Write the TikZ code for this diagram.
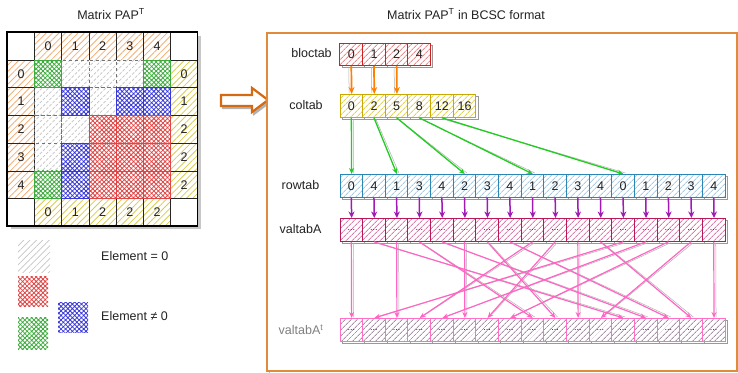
\documentclass[tikz,border=0pt]{standalone}
\usepackage{fontspec}
\setmainfont{Liberation Sans}
\usetikzlibrary{patterns.meta,arrows.meta,calc}
\definecolor{txt}{HTML}{222222}
\definecolor{hOr}{HTML}{F2B078}
\definecolor{hYe}{HTML}{DCCB50}
\definecolor{hGr}{HTML}{C4C4C4}
\definecolor{cGreen}{HTML}{3DAA3D}
\definecolor{cBlue}{HTML}{3838D8}
\definecolor{cRed}{HTML}{E04545}
\definecolor{bRed}{HTML}{CC2222}
\definecolor{bRedH}{HTML}{F08A8A}
\definecolor{bYel}{HTML}{C9A800}
\definecolor{bYelH}{HTML}{E2D25A}
\definecolor{bBlu}{HTML}{2A86B5}
\definecolor{bBluH}{HTML}{A9CBE6}
\definecolor{bMag}{HTML}{B8185A}
\definecolor{bMagH}{HTML}{E07AA8}
\definecolor{bPnk}{HTML}{FF6EC7}
\definecolor{bPnkH}{HTML}{A890A8}
\definecolor{aOra}{HTML}{FF8000}
\definecolor{aGrn}{HTML}{22CC22}
\definecolor{aPur}{HTML}{A01AB4}
\definecolor{aPnk}{HTML}{FF66C4}
\definecolor{frameC}{HTML}{E08A3C}
\definecolor{barrow}{HTML}{D66A12}
\tikzset{
  lbl/.style={font=\fontsize{12.5}{14}\selectfont, text=txt, inner sep=0pt},
  mcell/.style={minimum width=27.2pt, minimum height=27.7pt, inner sep=0pt, anchor=north west,
    draw=black!85, line width=0.8pt, font=\fontsize{12.5}{14}\selectfont, text=txt,
    preaction={fill=white}},
  mO/.style={mcell, pattern={Lines[angle=45,distance=4.5pt,line width=0.8pt]}, pattern color=hOr},
  mY/.style={mcell, pattern={Lines[angle=45,distance=4.5pt,line width=0.8pt]}, pattern color=hYe},
  mW/.style={mcell},
  mZ/.style={mcell, draw=black!55, dashed, pattern={Lines[angle=45,distance=4.5pt,line width=0.7pt]}, pattern color=hGr},
  mG/.style={mcell, draw=cGreen, pattern={Hatch[angle=45,distance=3.2pt,line width=0.8pt]}, pattern color=cGreen},
  mB/.style={mcell, draw=cBlue, pattern={Hatch[angle=45,distance=3.2pt,line width=0.8pt]}, pattern color=cBlue},
  mR/.style={mcell, draw=cRed, pattern={Hatch[angle=45,distance=3.2pt,line width=0.8pt]}, pattern color=cRed},
  dcell/.style={minimum width=22.65pt, minimum height=22.8pt, inner sep=0pt, anchor=north west,
    line width=1pt, font=\fontsize{12.5}{14}\selectfont, text=txt, preaction={fill=white}},
  dB/.style={dcell, draw=bRed, pattern={Lines[angle=45,distance=4pt,line width=0.9pt]}, pattern color=bRedH},
  dC/.style={dcell, draw=bYel, pattern={Lines[angle=45,distance=4pt,line width=0.9pt]}, pattern color=bYelH},
  dR/.style={dcell, draw=bBlu, pattern={Lines[angle=45,distance=4pt,line width=0.9pt]}, pattern color=bBluH},
  dV/.style={dcell, draw=bMag, pattern={Lines[angle=45,distance=4pt,line width=0.9pt]}, pattern color=bMagH, font=\fontsize{9}{10}\selectfont},
  dT/.style={dcell, draw=bPnk, pattern={Lines[angle=45,distance=4pt,line width=0.9pt]}, pattern color=bPnkH, font=\fontsize{9}{10}\selectfont},
  shdw/.style={draw=black!40, line width=0.6pt},
  oarr/.style={draw=aOra, line width=1.7pt, -{Stealth[length=7pt,width=6pt]}},
  garr/.style={draw=aGrn, line width=1.3pt, -{Stealth[length=6pt,width=5pt]}},
  parr/.style={draw=aPur, line width=1.5pt, -{Stealth[length=6.5pt,width=6pt]}},
  karr/.style={draw=aPnk, line width=1.2pt, -{Stealth[length=6pt,width=5pt]}},
  ashd/.style={draw=black!30, line width=0.5pt},
}
\begin{document}
\begin{tikzpicture}[x=1pt,y=-1pt]
\useasboundingbox (0,0) rectangle (738,372);

% ---------- titles ----------
\node[lbl] (title1) at (111,14) {Matrix PAP\textsuperscript{T}};
\node[lbl] (title2) at (466,14) {Matrix PAP\textsuperscript{T} in BCSC format};

% ---------- matrix ----------
\fill[black!22] (10.5,35.5) rectangle (200.9,229.4);
\foreach \c in {0,6} \foreach \r in {0,6}
  \node[mW] (m-\r-\c) at (7+\c*27.2, 32+\r*27.7) {};
\foreach \v [count=\c from 1] in {0,1,2,3,4}
  \node[mO] (m-0-\c) at (7+\c*27.2, 32) {\v};
\foreach \v [count=\r from 1] in {0,1,2,3,4}
  \node[mO] (m-\r-0) at (7, 32+\r*27.7) {\v};
\foreach \v [count=\r from 1] in {0,1,2,2,2}
  \node[mY] (m-\r-6) at (7+6*27.2, 32+\r*27.7) {\v};
\foreach \v [count=\c from 1] in {0,1,2,2,2}
  \node[mY] (m-6-\c) at (7+\c*27.2, 32+6*27.7) {\v};
% zero cells
\foreach \r/\c in {1/2,1/3,1/4,2/1,2/3,3/1,3/2,4/1}
  \node[mZ] (m-\r-\c) at (7+\c*27.2, 32+\r*27.7) {};
% non-zero cells
\foreach \r/\c in {1/1,1/5,5/1}
  \node[mG] (m-\r-\c) at (7+\c*27.2, 32+\r*27.7) {};
\foreach \r/\c in {2/2,2/4,2/5,4/2,5/2}
  \node[mB] (m-\r-\c) at (7+\c*27.2, 32+\r*27.7) {};
\foreach \r/\c in {3/3,3/4,3/5,4/3,4/4,4/5,5/3,5/4,5/5}
  \node[mR] (m-\r-\c) at (7+\c*27.2, 32+\r*27.7) {};
\draw[black, line width=1.2pt] (7,32) rectangle (7+7*27.2, 32+7*27.7);

% ---------- legend ----------
\fill[pattern={Lines[angle=45,distance=4.5pt,line width=0.7pt]}, pattern color=hGr] (18,240) rectangle (50,272);
\fill[pattern={Hatch[angle=45,distance=3.2pt,line width=0.8pt]}, pattern color=cRed] (18,276) rectangle (48,306);
\fill[pattern={Hatch[angle=45,distance=3.2pt,line width=0.8pt]}, pattern color=cGreen] (18,317) rectangle (48,349);
\fill[pattern={Hatch[angle=45,distance=3.2pt,line width=0.8pt]}, pattern color=cBlue] (58,302) rectangle (88,332);
\node[lbl, anchor=west] (leg0) at (101,256) {Element = 0};
\node[lbl, anchor=west] (leg1) at (101,316) {Element ≠ 0};

% ---------- block arrow ----------
\draw[black!30, line width=2pt, fill=black!30] (223,97)--(254,97)--(254,90)--(270,102)--(254,114)--(254,108)--(223,108)--cycle;
\draw[barrow, line width=2.2pt, fill=white, line join=miter] (221,95)--(252,95)--(252,88)--(268,100)--(252,112)--(252,106)--(221,106)--cycle;

% ---------- frame ----------
\draw[black!25, line width=1pt] (269,35) rectangle (739,373);
\draw[frameC, line width=1.3pt, fill=white] (267,33) rectangle (737,371);

% ---------- labels ----------
\node[lbl] (lb) at (311.5,53) {bloctab};
\node[lbl] (lc) at (306,105) {coltab};
\node[lbl] (lr) at (300.5,185) {rowtab};
\node[lbl] (lv) at (300.5,229) {valtabA};
\node[lbl, text=black!50] (lt) at (301,330) {valtabA\textsuperscript{t}};

% ---------- bloctab ----------
\foreach \v [count=\i from 0] in {0,1,2,4} {
  \draw[shdw] (339.5+\i*22.65+2.5, 43+2.5) rectangle ++(22.65,22);
  \node[dB, minimum height=22pt] (b\i) at (339.5+\i*22.65, 43) {\v};
}
% ---------- coltab ----------
\foreach \v [count=\i from 0] in {0,2,5,8,12,16} {
  \draw[shdw] (339.5+\i*22.65+2.5, 94+2.5) rectangle ++(22.65,22.8);
  \node[dC] (c\i) at (339.5+\i*22.65, 94) {\v};
}
% ---------- rowtab ----------
\foreach \v [count=\i from 0] in {0,4,1,3,4,2,3,4,1,2,3,4,0,1,2,3,4} {
  \draw[shdw] (339.5+\i*22.65+2.5, 174+2.5) rectangle ++(22.65,22.8);
  \node[dR] (r\i) at (339.5+\i*22.65, 174) {\v};
}
% ---------- valtabA ----------
\foreach \i in {0,...,16} {
  \draw[shdw] (339.5+\i*22.65+2.5, 218+2.5) rectangle ++(22.65,22.8);
  \node[dV] (v\i) at (339.5+\i*22.65, 218) {...};
}
% ---------- valtabA^t ----------
\foreach \i in {0,...,16} {
  \draw[shdw] (339.5+\i*22.65+2.5, 318+2.5) rectangle ++(22.65,22.8);
  \node[dT] (t\i) at (339.5+\i*22.65, 318) {...};
}

% ---------- connectors ----------
\foreach \i in {0,1,2}
  \draw[ashd] ($(b\i.south)+(-2.5,1)$) -- ($(c\i.north)+(-2.2,-1)$);
\foreach \i in {0,1,2}
  \draw[oarr] (b\i.south) -- ($(c\i.north)+(0.3,0)$);
\foreach \i/\j in {0/0,1/2,2/5,3/8,4/12}
  \draw[ashd] ($(c\i.south)+(2,1.5)$) -- ($(r\j.north)+(2.3,-1)$);
\foreach \i/\j in {0/0,1/2,2/5,3/8,4/12}
  \draw[garr] (c\i.south) -- ($(r\j.north)+(0.3,0)$);
\foreach \i in {0,...,16}
  \draw[parr] (r\i.south) -- ($(v\i.north)+(0.3,0)$);
\foreach \i/\j in {0/0,1/12,2/2,3/8,4/13,5/5,6/9,7/14,8/3,9/6,10/10,11/15,12/1,13/4,14/7,15/11,16/16}
  \draw[ashd] ($(v\i.south)+(2,1)$) -- ($(t\j.north)+(2.3,-1)$);
\foreach \i/\j in {0/0,1/12,2/2,3/8,4/13,5/5,6/9,7/14,8/3,9/6,10/10,11/15,12/1,13/4,14/7,15/11,16/16}
  \draw[karr] (v\i.south) -- ($(t\j.north)+(0.3,0)$);
\end{tikzpicture}
\end{document}
